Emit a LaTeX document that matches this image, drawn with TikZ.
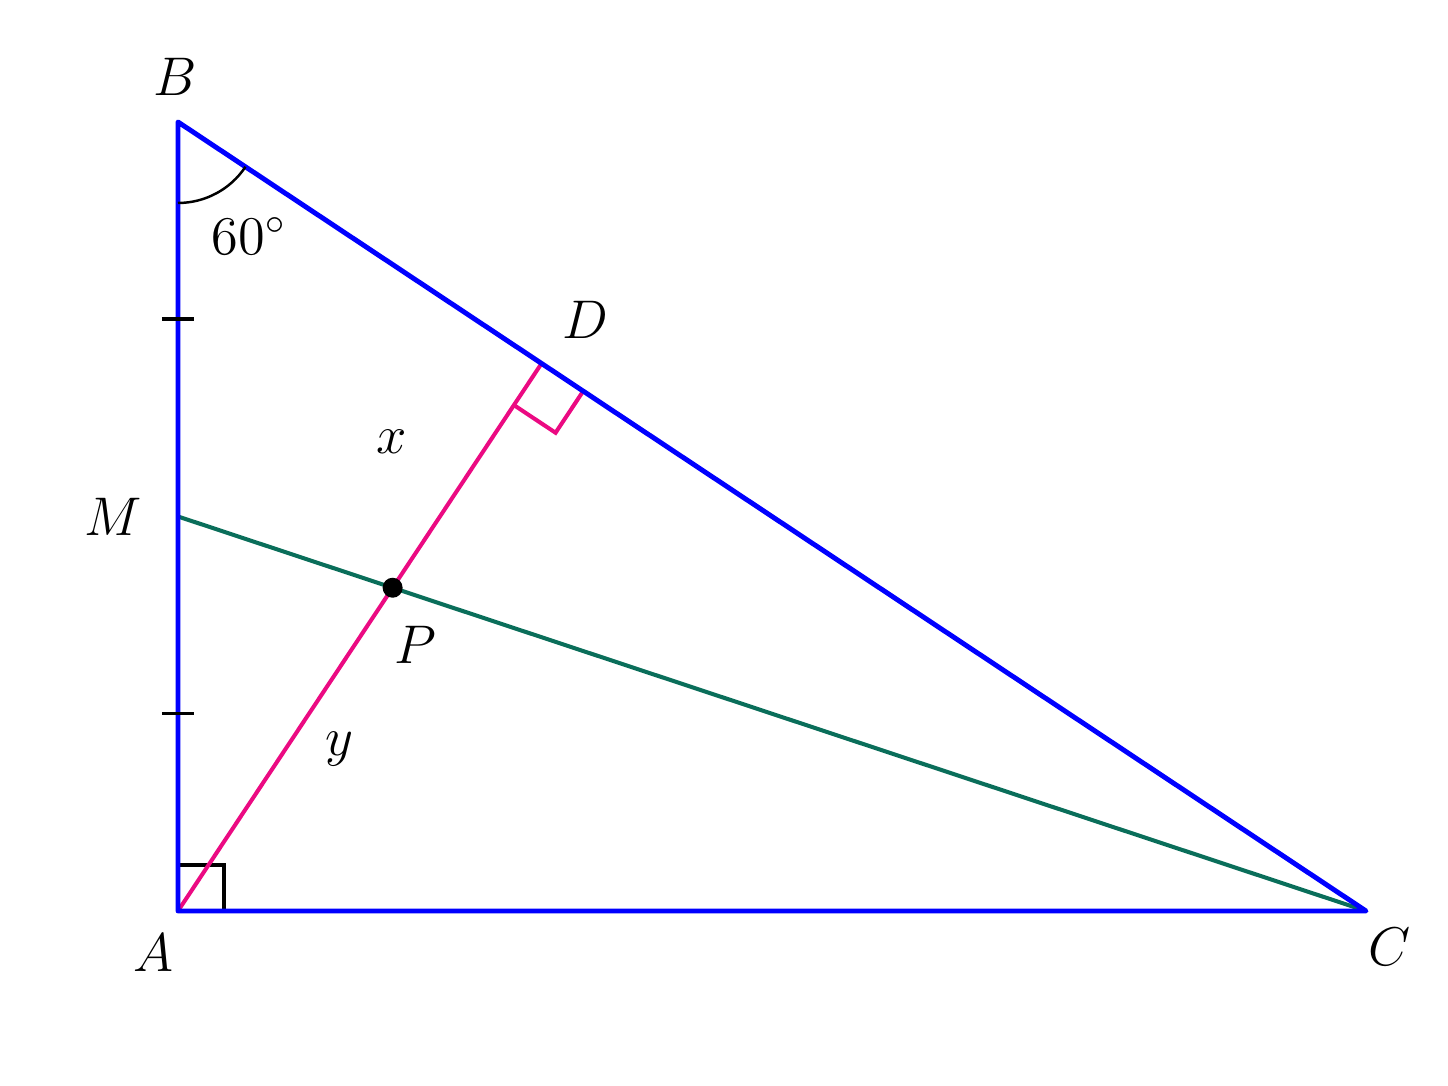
\documentclass[tikz,border=0pt]{standalone}
\usepackage{fix-cm}
\usepackage{tikz}
\usetikzlibrary{calc,positioning,angles}

\definecolor{sideblue}{RGB}{0,0,255}
\definecolor{altpink}{RGB}{235,10,130}
\definecolor{medgreen}{RGB}{10,110,90}

\begin{document}
\begin{tikzpicture}[
  side/.style = {draw = sideblue, line width = 1.4pt, line join = round},
  alt/.style = {draw = altpink, line width = 1.15pt},
  median/.style = {draw = medgreen, line width = 1.15pt},
  tick/.style = {draw, line width = 1pt},
  lbl/.style = {font = \fontsize{15.5}{18}\selectfont}]
\useasboundingbox (-1.78,-1.75) rectangle (12.70,9.11);
\coordinate (A) at (0,0);
\coordinate (B) at (0,7.89);
\coordinate (C) at (11.88,0);
\coordinate (M) at ($(A)!0.5!(B)$);
\coordinate (D) at ($(B)!(A)!(C)$);
\coordinate (P) at (intersection of A--D and M--C);
\coordinate (T1) at ($(B)!0.5!(M)$);
\coordinate (T2) at ($(M)!0.5!(A)$);

\pic[draw, line width = 1pt, angle radius = 0.46cm] {right angle = C--A--B};
\pic[draw = altpink, line width = 1.15pt, angle radius = 0.5cm] {right angle = A--D--C};
\draw[median] (M) -- (C);
\draw[alt] (A) -- (D);
\draw[side] (A) -- (B) -- (C) -- cycle;
\pic[draw, line width = 0.7pt, angle radius = 0.81cm] {angle = A--B--C};
\draw[tick] ([xshift=-0.16cm]T1) -- ([xshift=0.16cm]T1);
\draw[tick] ([xshift=-0.16cm]T2) -- ([xshift=0.16cm]T2);
\fill (P) circle (0.1);

\node[lbl] (lblB) at ($(B)+(-0.03,0.45)$) {$B$};
\node[lbl] (lblA) at ($(A)+(-0.25,-0.42)$) {$A$};
\node[lbl] (lblC) at ($(C)+(0.24,-0.36)$) {$C$};
\node[lbl] (lblM) at ($(M)+(-0.65,0)$) {$M$};
\node[lbl] (lblD) at ($(D)+(0.44,0.44)$) {$D$};
\node[lbl] (lblP) at ($(P)+(0.23,-0.57)$) {$P$};
\node[lbl] (ang) at ($(B)+(0.71,-1.14)$) {$60^\circ$};
\path (P) -- (D) node[lbl, pos=0.65, left=20pt] (lblx) {$x$};
\path (A) -- (P) node[lbl, midway, right=8pt] (lbly) {$y$};
\end{tikzpicture}
\end{document}
